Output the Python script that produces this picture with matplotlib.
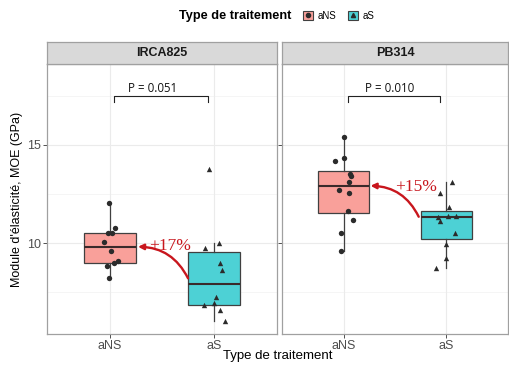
import numpy as np
import matplotlib
matplotlib.use("Agg")
import matplotlib.pyplot as plt
from matplotlib.patches import Patch
from matplotlib.lines import Line2D
from matplotlib.legend_handler import HandlerTuple

# ---- data ----
clones = ['IRCA825', 'PB314']
treatments = ['aNS', 'aS']

irca_ans = [12.06, 10.78, 10.53, 10.53, 10.04, 9.58, 9.07, 8.96, 8.81, 8.23]
irca_as = [13.76, 9.98, 9.73, 9.00, 8.62, 7.23, 6.92, 6.84, 6.58, 6.02]
pb_ans = [15.43, 14.32, 14.20, 13.52, 13.44, 13.11, 12.69, 12.53, 11.65, 11.17, 10.49, 9.61]
pb_as = [13.13, 12.53, 11.85, 11.38, 11.38, 11.34, 11.14, 10.53, 9.93, 9.22, 8.72]

# horizontal jitter of each point (category units)
jit_irca_ans = [-0.01, 0.045, -0.02, 0.025, -0.055, 0.01, 0.075, 0.04, -0.03, -0.01]
jit_irca_as = [-0.05, 0.05, -0.09, 0.055, 0.08, 0.02, 0.0, -0.095, 0.06, 0.10]
jit_pb_ans = [0.0, 0.0, -0.085, 0.06, 0.07, 0.05, -0.05, 0.05, 0.04, 0.085, -0.03, -0.03]
jit_pb_as = [0.05, -0.065, 0.025, 0.015, 0.095, -0.085, -0.06, 0.085, 0.0, 0.0, -0.10]

p_values = ['0.051', '0.010']
gains = ['+17%', '+15%']

values = [[irca_ans, irca_as], [pb_ans, pb_as]]
jitters = [[jit_irca_ans, jit_irca_as], [jit_pb_ans, jit_pb_as]]

fill_colors = ['#F9A09A', '#4DD1D5']
markers = ['o', '^']
red = '#C8161D'
sans = 'Liberation Sans'

# arrow tail / head / label positions per panel, p-label x
arrows = [((1.75, 8.2), (1.27, 9.81), (1.58, 9.85)),
          ((1.73, 11.34), (1.26, 12.92), (1.70, 12.87))]
p_text_x = [1.41, 1.45]

fig = plt.figure(figsize=(5.1, 3.65), dpi=100)
fig.patch.set_facecolor('white')

panel_x = [(0.0927, 0.5425), (0.5535, 0.996)]
bottom, top = 0.0849, 0.8247
strip_h = 0.0595

for i, clone in enumerate(clones):
    x0, x1 = panel_x[i]
    ax = fig.add_axes([x0, bottom, x1 - x0, top - bottom])
    ax.set_xlim(0.4, 2.6)
    ax.set_ylim(5.36, 19.13)

    # grid (ggplot-like)
    for y in [7.5, 12.5, 17.5]:
        ax.axhline(y, color='#F2F2F2', lw=0.5, zorder=0)
    for y in [10, 15]:
        ax.axhline(y, color='#EBEBEB', lw=0.8, zorder=0)
    for x in [1, 2]:
        ax.axvline(x, color='#EBEBEB', lw=0.8, zorder=0)

    bp = ax.boxplot(values[i], positions=[1, 2], widths=0.5, patch_artist=True,
                    showfliers=False, showcaps=False, whis=1.5,
                    medianprops=dict(color='#3A2A2A', lw=1.5),
                    boxprops=dict(edgecolor='#404040', lw=0.9),
                    whiskerprops=dict(color='#404040', lw=0.9))
    for patch, c in zip(bp['boxes'], fill_colors):
        patch.set_facecolor(c)
        patch.set_zorder(2)
    for j in range(2):
        xs = np.array(jitters[i][j]) + j + 1
        ax.scatter(xs, values[i][j], marker=markers[j], s=15, color='#2B2B2B',
                   zorder=3, linewidths=0)

    # significance bracket
    yb = 17.5
    ax.plot([1.04, 1.04, 1.94, 1.94], [yb - 0.3, yb, yb, yb - 0.3],
            color='#222222', lw=0.8)
    ax.text(p_text_x[i], yb + 0.06, f'P = {p_values[i]}', ha='center', va='bottom',
            fontsize=8.3, family='Open Sans', color='#111111')

    # gain arrow
    tail, head, lab = arrows[i]
    ax.annotate('', xy=head, xytext=tail,
                arrowprops=dict(arrowstyle='-|>', color=red, lw=1.7,
                                mutation_scale=8, shrinkA=0, shrinkB=0,
                                connectionstyle='arc3,rad=0.3'), zorder=4)
    ax.text(lab[0], lab[1], gains[i], ha='center', va='center', color=red,
            fontsize=12.5, family='Liberation Serif', zorder=4)

    ax.set_xticks([1, 2])
    ax.set_xticklabels(treatments, fontsize=9, family=sans, color='#4D4D4D')
    ax.set_yticks([10, 15])
    if i == 0:
        ax.set_yticklabels(['10', '15'], fontsize=9, family=sans, color='#4D4D4D')
        ax.set_ylabel("Module d'élasticité, MOE (GPa)", fontsize=9, family=sans,
                      labelpad=3)
    else:
        ax.set_yticklabels([])
        ax.tick_params(axis='y', length=0)
    ax.tick_params(axis='both', color='#333333', length=3, width=0.6, pad=1.5)
    for s in ax.spines.values():
        s.set_color('#A0A0A0')
        s.set_linewidth(0.9)

    # facet strip
    sax = fig.add_axes([x0, top, x1 - x0, strip_h])
    sax.set_facecolor('#D9D9D9')
    sax.set_xticks([])
    sax.set_yticks([])
    for s in sax.spines.values():
        s.set_color('#A0A0A0')
        s.set_linewidth(0.9)
    sax.text(0.5, 0.5, clone, ha='center', va='center', fontsize=9,
             fontweight='bold', family=sans, color='#1A1A1A',
             transform=sax.transAxes)

fig.text(0.545, 0.025, 'Type de traitement', ha='center', va='center',
         fontsize=9.5, family=sans)

# legend on top
fig.text(0.572, 0.956, 'Type de traitement', ha='right', va='center',
         fontsize=9.2, fontweight='bold', family=sans)
handles = []
for c, m in zip(fill_colors, markers):
    handles.append((Patch(facecolor=c, edgecolor='#404040', lw=0.8),
                    Line2D([], [], marker=m, color='#2B2B2B', ls='none', ms=3)))
fig.legend(handles, treatments, handler_map={tuple: HandlerTuple(ndivide=1)},
           loc='center left', bbox_to_anchor=(0.585, 0.956), ncol=2, frameon=False,
           prop={'family': sans, 'size': 7}, handlelength=1.0, handleheight=1.0,
           handletextpad=0.5, columnspacing=1.2, borderpad=0)

fig.savefig('out.png', dpi=100)
